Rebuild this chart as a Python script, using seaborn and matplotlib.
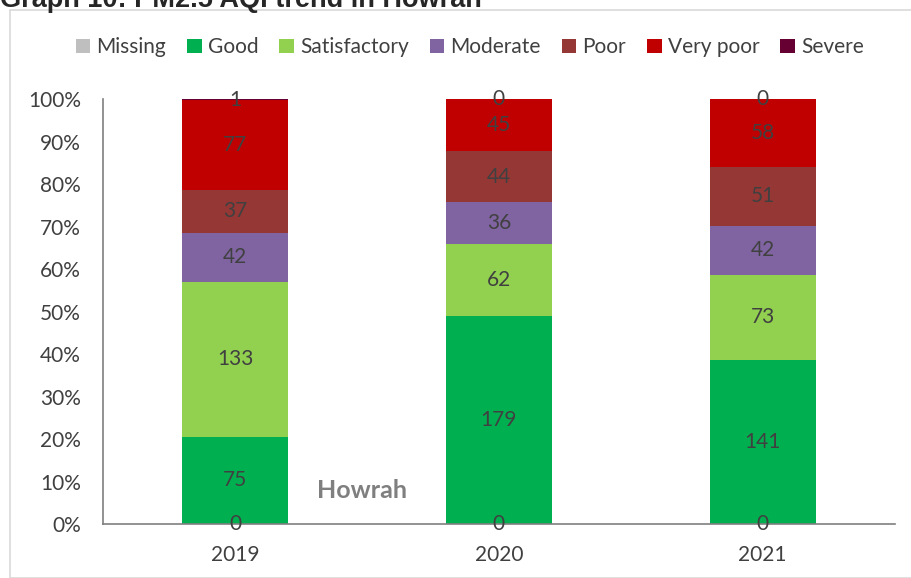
import numpy as np
import pandas as pd
import seaborn as sns
import matplotlib.pyplot as plt
from matplotlib.patches import Rectangle, Patch

years = ['2019', '2020', '2021']
categories = ['Missing', 'Good', 'Satisfactory', 'Moderate', 'Poor', 'Very poor', 'Severe']
missing = [0, 0, 0]
good = [75, 179, 141]
satisfactory = [133, 62, 73]
moderate = [42, 36, 42]
poor = [37, 44, 51]
very_poor = [77, 45, 58]
severe = [1, 0, 0]
colors = ['#BFBFBF', '#00B050', '#92D050', '#8064A2', '#953735', '#C00000', '#660033']

counts = pd.DataFrame(
    [missing, good, satisfactory, moderate, poor, very_poor, severe],
    index=categories, columns=years)
pct = counts / counts.sum() * 100
cum = pct.cumsum()

sns.set_style('white')
plt.rcParams['font.family'] = ['Lato', 'DejaVu Sans']

fig = plt.figure(figsize=(9.12, 5.78), dpi=100)
ax = fig.add_axes([0.113, 0.0934, 0.868, 0.7353])

# stacked bars: draw cumulative totals from top category down
for cat, col in reversed(list(zip(categories, colors))):
    df = pd.DataFrame({'year': years, 'value': cum.loc[cat].values})
    sns.barplot(data=df, x='year', y='value', color=col, width=0.4,
                saturation=1, ax=ax, edgecolor='none')

# data labels
for i, y in enumerate(years):
    base = 0
    for cat in categories:
        h = pct.loc[cat, y]
        ax.text(i, base + h / 2, str(counts.loc[cat, y]), ha='center', va='center',
                fontsize=15, color='#404040')
        base += h

ax.set_ylim(0, 100)
ax.set_xlim(-0.5, 2.5)
ax.set_yticks(range(0, 101, 10))
ax.set_yticklabels([f'{v}%' for v in range(0, 101, 10)])
ax.set_xlabel('')
ax.set_ylabel('')
ax.tick_params(axis='both', labelsize=15, colors='#404040', length=0)
ax.tick_params(axis='x', pad=15)
ax.tick_params(axis='y', pad=16)
for s in ['top', 'right']:
    ax.spines[s].set_visible(False)
for s in ['left', 'bottom']:
    ax.spines[s].set_color('#7F7F7F')
    ax.spines[s].set_linewidth(1.2)

ax.text(0.327, 0.08, 'Howrah', transform=ax.transAxes, ha='center', va='center',
        fontsize=18, fontweight='bold', color='#7F7F7F')

handles = [Patch(facecolor=c, edgecolor='none') for c in colors]
fig.legend(handles, categories, loc='center', bbox_to_anchor=(0.515, 0.918), ncol=7,
           frameon=False, fontsize=15, handlelength=0.7, handleheight=0.7,
           handletextpad=0.3, columnspacing=1.0, labelcolor='#404040')

# chart frame
fig.patches.append(Rectangle((10 / 912, 0), 1.2, 1 - 10 / 578, transform=fig.transFigure,
                             fill=False, edgecolor='#D9D9D9', linewidth=1.2))

fig.text(0.0, 1 - 7 / 578, 'Graph 10: PM2.5 AQI trend in Howrah', ha='left', va='baseline',
         fontsize=19.5, fontweight='bold', family=['Liberation Sans', 'DejaVu Sans'])

fig.savefig('out.png', dpi=100)
